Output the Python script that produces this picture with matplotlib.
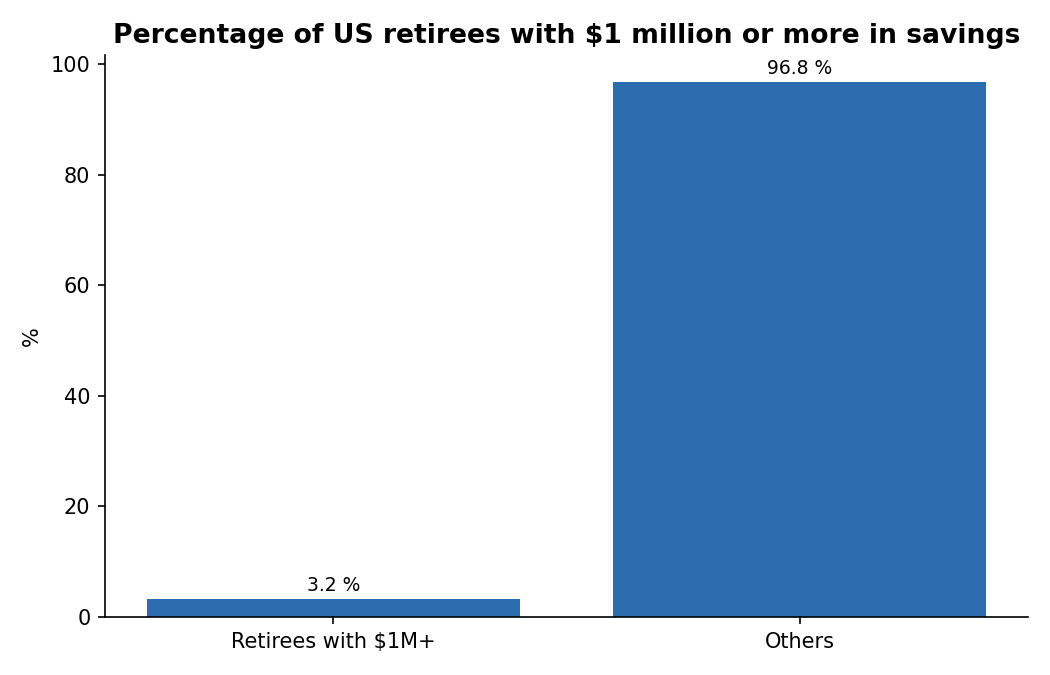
import matplotlib
matplotlib.use("Agg")
import matplotlib.pyplot as plt

categories = ["Retirees with $1M+", "Others"]
percentages = [3.2, 96.8]

fig, ax = plt.subplots(figsize=(7, 4.5), dpi=150)
bars = ax.bar(categories, percentages, width=0.8, color="#2c6daf")

# value labels above the bars
for b, v in zip(bars, percentages):
    ax.annotate(f"{v} %", (b.get_x() + b.get_width() / 2, v),
                xytext=(0, 2), textcoords="offset points",
                ha="center", va="bottom", fontsize=9)

ax.set_title("Percentage of US retirees with $1 million or more in savings",
             fontsize=12.8, fontweight="bold")
ax.set_ylabel("%", fontsize=10)
ax.tick_params(labelsize=10)
ax.spines["top"].set_visible(False)
ax.spines["right"].set_visible(False)

fig.subplots_adjust(left=0.1, right=0.979, top=0.918, bottom=0.086)
fig.savefig("out.png")
